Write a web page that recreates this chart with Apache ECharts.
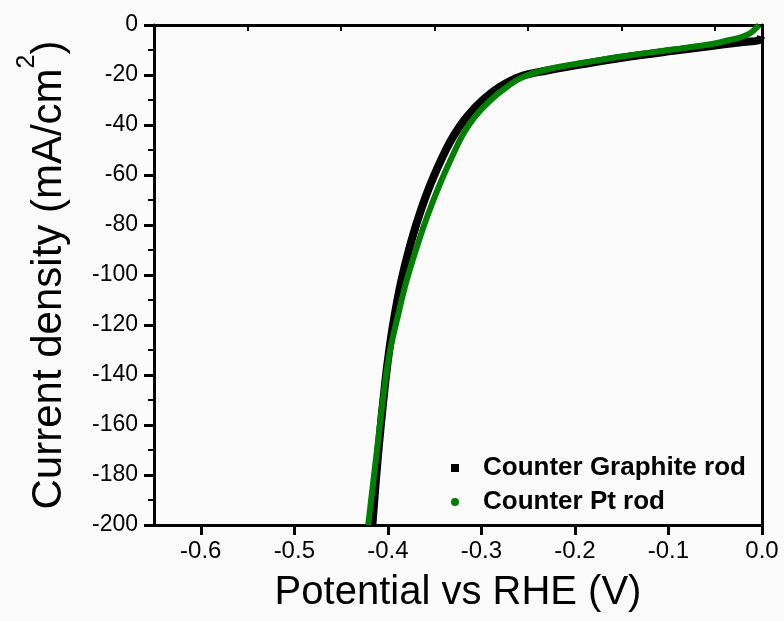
<!DOCTYPE html>
<html>
<head>
<meta charset="utf-8">
<script src="https://cdn.jsdelivr.net/npm/echarts@6/dist/echarts.min.js"></script>
<style>html,body{margin:0;padding:0;background:#fbfbfb;}#chart{width:784px;height:621px;}</style>
</head>
<body>
<div id="chart"></div>
<script>
// Counter Graphite rod (black)
const potentialGraphite = [-0.4165,-0.410,-0.4028,-0.3985,-0.3930,-0.3860,-0.3775,-0.3670,-0.3540,-0.3380,-0.3280,-0.3155,-0.2985,-0.2800,-0.2590,-0.23,-0.191,-0.148,-0.0947,-0.052,-0.02,-0.004,-0.001];
const currentGraphite   = [-200,-170,-143,-130,-116.7,-103,-90,-76.7,-63.3,-50,-43.3,-36.7,-30,-24.7,-20.7,-18.2,-15.6,-13,-10.3,-8.3,-6.8,-6.2,-4.5];
// Counter Pt rod (green)
const potentialPt = [-0.421,-0.4116,-0.403,-0.3975,-0.3895,-0.3805,-0.3700,-0.3580,-0.3440,-0.3280,-0.3190,-0.3070,-0.2900,-0.2725,-0.2550,-0.23,-0.191,-0.148,-0.0947,-0.052,-0.038,-0.0235,-0.0128,-0.0057,-0.003];
const currentPt   = [-200,-170,-143,-130,-116.7,-103,-90,-76.7,-63.3,-50,-43.3,-36.7,-30,-24.7,-20.7,-17.8,-15.1,-12.5,-9.8,-7.5,-6.3,-5.0,-3.3,-1.0,0];
// Axis ticks
const xMajorTicks = [-0.6,-0.5,-0.4,-0.3,-0.2,-0.1,0.0];
const xMinorTicks = [-0.65,-0.55,-0.45,-0.35,-0.25,-0.15,-0.05];
const seriesNames = ['Counter Graphite rod','Counter Pt rod'];

const zip = (xs, ys) => xs.map((x, i) => [x, ys[i]]);
const FONT = 'Liberation Sans, Arial, sans-serif';
const chart = echarts.init(document.getElementById('chart'), null, {renderer: 'canvas'});
chart.setOption({
  animation: false,
  backgroundColor: '#fbfbfb',
  grid: {left: 154, right: 22, top: 25, bottom: 96},
  legend: {
    orient: 'vertical', left: 446, top: 450, itemWidth: 8, itemHeight: 8, itemGap: 8,
    textStyle: {fontFamily: FONT, fontSize: 26, fontWeight: 'bold', color: '#000', lineHeight: 25, padding: [0,0,0,19]},
    data: [{name: seriesNames[0], icon: 'rect'}, {name: seriesNames[1], icon: 'circle'}]
  },
  xAxis: [
    {
      type: 'value', min: -0.65, max: 0, position: 'bottom',
      axisLine: {onZero: false, lineStyle: {color: '#000', width: 3}},
      axisTick: {customValues: xMajorTicks, length: 10, lineStyle: {color: '#000', width: 3}},
      axisLabel: {customValues: xMajorTicks, formatter: v => v.toFixed(1), fontFamily: FONT, fontSize: 24, color: '#000', margin: 14},
      splitLine: {show: false},
      name: 'Potential vs RHE (V)', nameLocation: 'middle', nameGap: 48,
      nameTextStyle: {fontFamily: FONT, fontSize: 40, color: '#000'}
    },
    {
      type: 'value', min: -0.65, max: 0, position: 'bottom',
      axisLine: {show: false},
      axisTick: {customValues: xMinorTicks, length: 6, lineStyle: {color: '#000', width: 2}},
      axisLabel: {show: false}, splitLine: {show: false}
    },
    {
      type: 'value', min: -0.65, max: 0, position: 'top',
      axisLine: {onZero: false, lineStyle: {color: '#000', width: 3}},
      axisTick: {show: false}, axisLabel: {show: false}, splitLine: {show: false}
    }
  ],
  yAxis: [
    {
      type: 'value', min: -200, max: 0, interval: 20, position: 'left',
      axisLine: {onZero: false, lineStyle: {color: '#000', width: 3}},
      axisTick: {length: 10, lineStyle: {color: '#000', width: 3}},
      minorTick: {show: true, splitNumber: 2, length: 6, lineStyle: {color: '#000', width: 2}},
      axisLabel: {fontFamily: FONT, fontSize: 23, color: '#000', margin: 16},
      splitLine: {show: false}, minorSplitLine: {show: false},
      name: '{a|Current density (mA/cm}{s|2}{a|)}', nameLocation: 'middle', nameGap: 84, nameRotate: 90,
      nameTextStyle: {
        fontFamily: FONT, color: '#000',
        rich: {
          a: {fontFamily: FONT, fontSize: 42, lineHeight: 44, color: '#000', verticalAlign: 'bottom'},
          s: {fontFamily: FONT, fontSize: 25, lineHeight: 25, color: '#000', verticalAlign: 'bottom', padding: [0,0,30,0]}
        }
      }
    },
    {
      type: 'value', min: -200, max: 0, position: 'right',
      axisLine: {onZero: false, lineStyle: {color: '#000', width: 3}},
      axisTick: {show: false}, axisLabel: {show: false}, splitLine: {show: false}
    }
  ],
  series: [
    {
      name: seriesNames[0], type: 'line', xAxisIndex: 0, yAxisIndex: 0,
      data: zip(potentialGraphite, currentGraphite),
      showSymbol: false, symbol: 'circle', smooth: 0.4,
      color: '#000000', lineStyle: {color: '#000000', width: 8}, z: 2
    },
    {
      name: seriesNames[1], type: 'line', xAxisIndex: 0, yAxisIndex: 0,
      data: zip(potentialPt, currentPt),
      showSymbol: false, symbol: 'circle', smooth: 0.4,
      color: '#008000', lineStyle: {color: '#008000', width: 6}, z: 3
    }
  ]
});
</script>
</body>
</html>
